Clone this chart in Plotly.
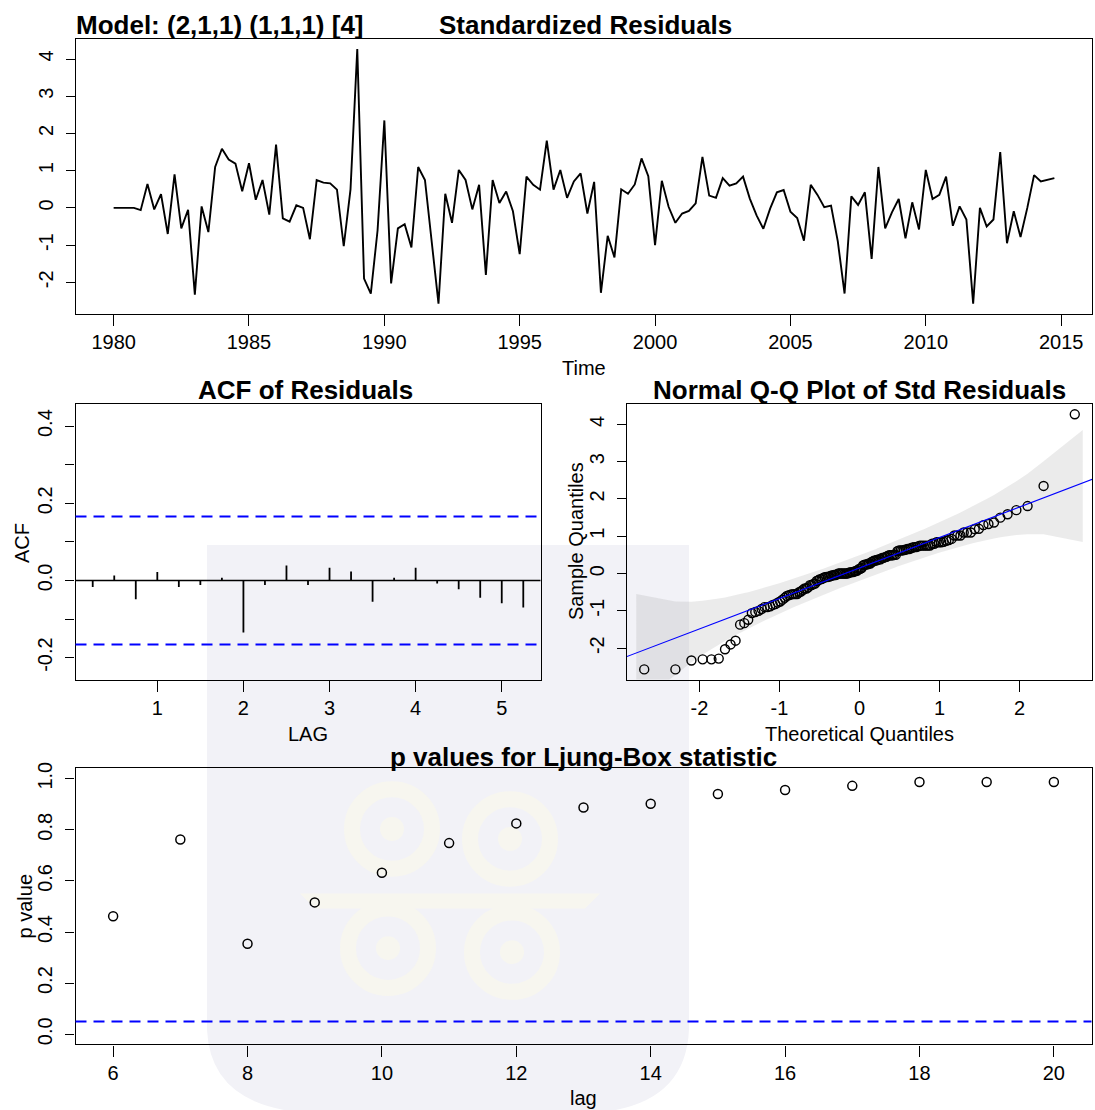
import math
from statistics import NormalDist
import plotly.graph_objects as go

W, H = 1095, 1110
FONT = "Liberation Sans, Arial, sans-serif"
BLUE = "#0000FF"

# ---------------- data ----------------
model_title = "Model: (2,1,1) (1,1,1) [4]"
start_year = 1980
frequency = 4
std_resid = [
    0.00, 0.00, 0.00, 0.00, -0.06, 0.64, -0.04, 0.37, -0.70, 0.90,
    -0.55, -0.05, -2.33, 0.04, -0.65, 1.10, 1.59, 1.30, 1.19, 0.45,
    1.20, 0.22, 0.75, -0.18, 1.70, -0.28, -0.37, 0.07, 0.00, -0.84,
    0.75, 0.68, 0.66, 0.49, -1.03, 0.50, 4.27, -1.90, -2.30, -0.60,
    2.35, -2.03, -0.55, -0.44, -1.06, 1.10, 0.75, -0.90, -2.57, 0.38,
    -0.40, 1.02, 0.75, -0.04, 0.62, -1.80, 0.75, 0.13, 0.44, -0.09,
    -1.24, 0.84, 0.62, 0.49, 1.81, 0.49, 1.02, 0.27, 0.71, 0.93,
    -0.15, 0.70, -2.28, -0.75, -1.33, 0.50, 0.38, 0.63, 1.33, 0.85,
    -1.00, 0.73, 0.03, -0.40, -0.15, -0.08, 0.12, 1.37, 0.33, 0.27,
    0.80, 0.60, 0.66, 0.84, 0.25, -0.20, -0.56, -0.02, 0.42, 0.48,
    -0.10, -0.27, -0.88, 0.62, 0.35, 0.02, 0.06, -0.90, -2.30, 0.31,
    0.08, 0.42, -1.37, 1.10, -0.55, -0.12, 0.24, -0.82, 0.15, -0.58,
    1.02, 0.24, 0.35, 0.84, -0.48, 0.04, -0.31, -2.57, 0.00, -0.50,
    -0.31, 1.50, -0.95, -0.09, -0.78, 0.00, 0.88, 0.71, 0.75, 0.80,
]
time_ticks = [1980, 1985, 1990, 1995, 2000, 2005, 2010, 2015]
resid_ticks = [-2, -1, 0, 1, 2, 3, 4]

acf_lags = [0.25, 0.50, 0.75, 1.00, 1.25, 1.50, 1.75, 2.00, 2.25, 2.50, 2.75,
            3.00, 3.25, 3.50, 3.75, 4.00, 4.25, 4.50, 4.75, 5.00, 5.25]
acf_values = [-0.017, 0.013, -0.049, 0.022, -0.017, -0.012, 0.007, -0.135,
              -0.012, 0.039, -0.012, 0.033, 0.023, -0.055, 0.007, 0.033,
              -0.008, -0.023, -0.045, -0.059, -0.070]
acf_bound = 0.166
acf_xticks = [1, 2, 3, 4, 5]
acf_yticks = [-0.2, -0.1, 0.0, 0.1, 0.2, 0.3, 0.4]
acf_ylabels = ["-0.2", "", "0.0", "", "0.2", "", "0.4"]

qq_xticks = [-2, -1, 0, 1, 2]
qq_yticks = [-2, -1, 0, 1, 2, 3, 4]

lb_lags = [6, 7, 8, 9, 10, 11, 12, 13, 14, 15, 16, 17, 18, 19, 20]
lb_pvalues = [0.462, 0.762, 0.354, 0.516, 0.632, 0.748, 0.825, 0.887,
              0.902, 0.940, 0.956, 0.972, 0.987, 0.987, 0.987]
lb_alpha = 0.05
lb_xticks = [6, 8, 10, 12, 14, 16, 18, 20]
lb_yticks = [0.0, 0.2, 0.4, 0.6, 0.8, 1.0]

# ---------------- helpers ----------------
def px_x(a, b):
    return [a / W, b / W]

def px_y(top, bottom):
    return [1 - bottom / H, 1 - top / H]

def pad_range(lo, hi, f=0.04):
    d = (hi - lo) * f
    return [lo - d, hi + d]

n = len(std_resid)
times = [start_year + i / frequency for i in range(n)]

# QQ computations
nd = NormalDist()
pp = [(i + 0.5) / n for i in range(n)]
z = [nd.inv_cdf(p) for p in pp]
srt = sorted(std_resid)

def q7(xs, p):
    h = (len(xs) - 1) * p
    lo = math.floor(h)
    hi = min(lo + 1, len(xs) - 1)
    return xs[lo] + (h - lo) * (xs[hi] - xs[lo])

y25, y75 = q7(srt, 0.25), q7(srt, 0.75)
x25, x75 = nd.inv_cdf(0.25), nd.inv_cdf(0.75)
b = (y75 - y25) / (x75 - x25)
a = y25 - b * x25
dn = [math.exp(-zz * zz / 2) / math.sqrt(2 * math.pi) for zz in z]
SE = [(b / d) * math.sqrt(p * (1 - p) / n) for d, p in zip(dn, pp)]
fit = [a + b * zz for zz in z]
U = [f + 3.9 * s for f, s in zip(fit, SE)]
L = [f - 3.9 * s for f, s in zip(fit, SE)]
zb = list(z)
zb[0] -= 0.1
zb[-1] += 0.1
band_x = zb + zb[::-1]
band_y = L + U[::-1]

yr = pad_range(min(std_resid), max(std_resid))
tr = pad_range(times[0], times[-1])
zr = pad_range(z[0], z[-1])
acf_xr = pad_range(acf_lags[0], acf_lags[-1])
lb_xr = pad_range(lb_lags[0], lb_lags[-1])
lb_yr = pad_range(0, 1)

# ---------------- figure ----------------
fig = go.Figure()

# top: standardized residuals
fig.add_trace(go.Scatter(x=times, y=std_resid, mode="lines",
                         line=dict(color="black", width=1.9),
                         xaxis="x", yaxis="y", showlegend=False))

# ACF spikes
ax, ay = [], []
for l, v in zip(acf_lags, acf_values):
    ax += [l, l, None]
    ay += [0, v, None]
fig.add_trace(go.Scatter(x=ax, y=ay, mode="lines",
                         line=dict(color="black", width=1.8),
                         xaxis="x2", yaxis="y2", showlegend=False))

# QQ band, points, line
fig.add_trace(go.Scatter(x=band_x, y=band_y, mode="lines", fill="toself",
                         fillcolor="rgba(153,153,153,0.2)",
                         line=dict(width=0, color="rgba(0,0,0,0)"),
                         xaxis="x3", yaxis="y3", showlegend=False))
fig.add_trace(go.Scatter(x=z, y=srt, mode="markers",
                         marker=dict(symbol="circle-open", size=9, color="black",
                                     line=dict(width=1.4, color="black")),
                         xaxis="x3", yaxis="y3", showlegend=False))
lx = [zr[0] - 1, zr[1] + 1]
fig.add_trace(go.Scatter(x=lx, y=[a + b * v for v in lx], mode="lines",
                         line=dict(color=BLUE, width=1.1),
                         xaxis="x3", yaxis="y3", showlegend=False))

# Ljung-Box p-values
fig.add_trace(go.Scatter(x=lb_lags, y=lb_pvalues, mode="markers",
                         marker=dict(symbol="circle-open", size=9, color="black",
                                     line=dict(width=1.5, color="black")),
                         xaxis="x4", yaxis="y4", showlegend=False))

tickfont = dict(family=FONT, size=20, color="black")

def axis_style(**kw):
    d = dict(showline=True, linecolor="black", linewidth=1.3, mirror=True,
             ticks="outside", tickcolor="black", tickwidth=1.3,
             showgrid=False, zeroline=False, tickfont=tickfont,
             fixedrange=True)
    d.update(kw)
    return d

def xax(dom, anchor, rng, vals, texts):
    return axis_style(domain=dom, anchor=anchor, range=rng, tickvals=vals,
                      ticktext=texts, ticklen=11, ticklabelstandoff=-1)

def yax(dom, anchor, rng, vals, texts):
    return axis_style(domain=dom, anchor=anchor, range=rng, tickvals=vals,
                      ticktext=texts, ticklen=9, tickangle=-90,
                      ticklabelstandoff=5)

fmt_int = lambda vs: [str(v) for v in vs]

fig.update_layout(
    width=W, height=H, autosize=False,
    margin=dict(l=0, r=0, t=0, b=0),
    paper_bgcolor="white", plot_bgcolor="rgba(0,0,0,0)",
    showlegend=False,
    xaxis=xax(px_x(76, 1092), "y", tr, time_ticks, fmt_int(time_ticks)),
    yaxis=yax(px_y(32, 309), "x", yr, resid_ticks, fmt_int(resid_ticks)),
    xaxis2=xax(px_x(75.5, 540.5), "y2", acf_xr, acf_xticks, fmt_int(acf_xticks)),
    yaxis2=yax(px_y(400, 677.5), "x2", [-0.257, 0.457], acf_yticks, acf_ylabels),
    xaxis3=xax(px_x(627, 1092), "y3", zr, qq_xticks, fmt_int(qq_xticks)),
    yaxis3=yax(px_y(400, 677.5), "x3", yr, qq_yticks, fmt_int(qq_yticks)),
    xaxis4=xax(px_x(75.5, 1091.5), "y4", lb_xr, lb_xticks, fmt_int(lb_xticks)),
    yaxis4=yax(px_y(767, 1045), "x4", lb_yr, lb_yticks,
               ["%.1f" % v for v in lb_yticks]),
)

# reference lines
shapes = [
    dict(type="line", xref="x2 domain", yref="y2", x0=0, x1=1, y0=0, y1=0,
         line=dict(color="black", width=1.5)),
    dict(type="line", xref="x2 domain", yref="y2", x0=0, x1=1,
         y0=acf_bound, y1=acf_bound, line=dict(color=BLUE, width=2, dash="11px,7px")),
    dict(type="line", xref="x2 domain", yref="y2", x0=0, x1=1,
         y0=-acf_bound, y1=-acf_bound, line=dict(color=BLUE, width=2, dash="11px,7px")),
    dict(type="line", xref="x4 domain", yref="y4", x0=0, x1=1,
         y0=lb_alpha, y1=lb_alpha, line=dict(color=BLUE, width=2, dash="11px,7px")),
]

# faint watermark (background decoration)
def P(x, y):
    return "%.5f,%.5f" % (x / W, 1 - y / H)

CREAM = "rgb(247,246,239)"
shield = ("M " + P(207, 542) + " L " + P(689, 542) + " L " + P(689, 1030) +
          " Q " + P(686, 1100) + " " + P(610, 1112) + " L " + P(290, 1112) +
          " Q " + P(210, 1100) + " " + P(207, 1030) + " Z")
shapes.append(dict(type="path", xref="paper", yref="paper", path=shield,
                   fillcolor="rgb(242,242,247)", line=dict(width=0), layer="below"))
for cx, cy in [(392, 828), (510, 838), (388, 948), (512, 952)]:
    r = 40
    shapes.append(dict(type="circle", xref="paper", yref="paper",
                       x0=(cx - r) / W, x1=(cx + r) / W,
                       y0=1 - (cy + r) / H, y1=1 - (cy - r) / H,
                       fillcolor="rgba(0,0,0,0)", line=dict(width=16, color=CREAM),
                       layer="below"))
    r2 = 12
    shapes.append(dict(type="circle", xref="paper", yref="paper",
                       x0=(cx - r2) / W, x1=(cx + r2) / W,
                       y0=1 - (cy + r2) / H, y1=1 - (cy - r2) / H,
                       fillcolor=CREAM, line=dict(width=0), layer="below"))
shapes.append(dict(type="path", xref="paper", yref="paper",
                   path="M " + P(300, 893) + " L " + P(600, 893) + " L " + P(585, 908) +
                        " L " + P(315, 908) + " Z",
                   fillcolor=CREAM, line=dict(width=0), layer="below"))
fig.update_layout(shapes=shapes)

# titles and axis labels
def ann(text, x, y, size=20, bold=False, angle=0, xanchor="center"):
    fig.add_annotation(text=("<b>%s</b>" % text) if bold else text,
                       x=x / W, y=1 - y / H, xref="paper", yref="paper",
                       showarrow=False, textangle=angle, xanchor=xanchor,
                       yanchor="middle",
                       font=dict(family=FONT, size=size, color="black"))

ann(model_title, 74, 18, size=26, bold=True, xanchor="left")
ann("Standardized Residuals", 585, 18, size=26, bold=True)
ann("Time", 584, 364)
ann("ACF of Residuals", 305, 386, size=26, bold=True)
ann("LAG", 308, 732)
ann("ACF", 22, 540, angle=-90)
ann("Normal Q-Q Plot of Std Residuals", 859, 386, size=26, bold=True)
ann("Theoretical Quantiles", 859, 732)
ann("Sample Quantiles", 576, 538, angle=-90)
ann("p values for Ljung-Box statistic", 583, 755, size=26, bold=True)
ann("lag", 583, 1099)
ann("p value", 25, 906, angle=-90)

fig.write_html("out.html")
